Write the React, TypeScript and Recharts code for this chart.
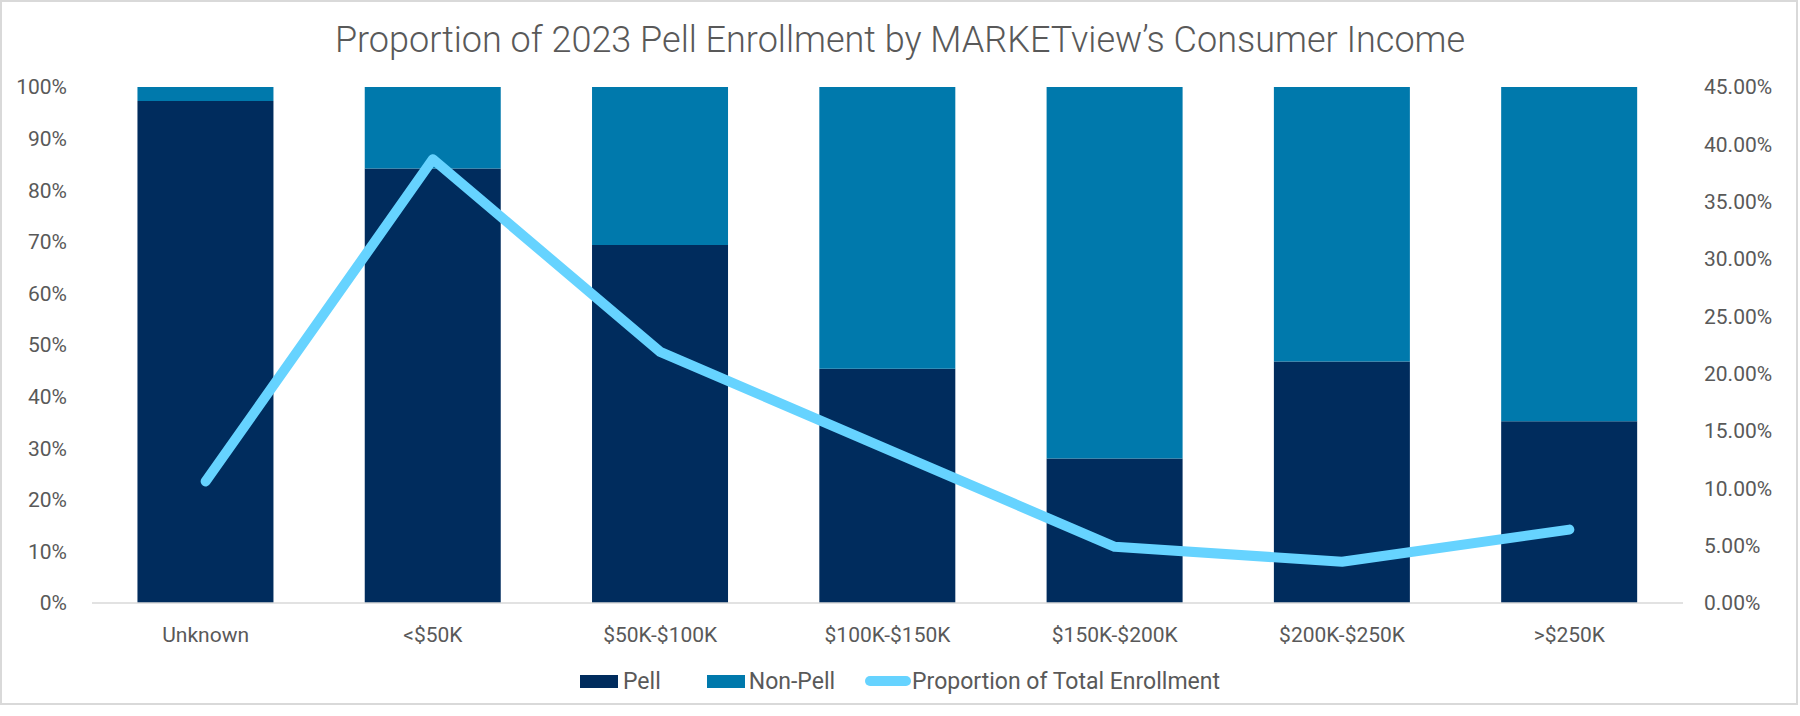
import React from "react";
import {
  Bar,
  ComposedChart,
  Legend,
  Line,
  XAxis,
  YAxis,
} from "recharts";

const CATEGORIES = ["Unknown", "<$50K", "$50K-$100K", "$100K-$150K", "$150K-$200K", "$200K-$250K", ">$250K"];
const PELL = [97.3, 84.2, 69.4, 45.4, 28.0, 46.8, 35.2];
const NON_PELL = [2.7, 15.8, 30.6, 54.6, 72.0, 53.2, 64.8];
const TOTAL_SHARE = [10.6, 38.7, 21.9, 13.4, 4.9, 3.6, 6.4];

const LEFT_TICKS = [0, 10, 20, 30, 40, 50, 60, 70, 80, 90, 100];
const RIGHT_TICKS = [0, 5, 10, 15, 20, 25, 30, 35, 40, 45];

const FONT = "Roboto, 'Noto Sans', sans-serif";
const TEXT = "#595959";
const PELL_COLOR = "#002C5D";
const NON_PELL_COLOR = "#0079AC";
const LINE_COLOR = "#66D3FF";
const AXIS_TICK = { fill: TEXT, fontSize: 21, fontFamily: FONT };

const data = CATEGORIES.map((name, i) => ({
  name,
  pell: PELL[i],
  nonPell: NON_PELL[i],
  share: TOTAL_SHARE[i],
}));

function LegendContent() {
  const label = { fontSize: 23, color: TEXT, fontFamily: FONT };
  return (
    <div style={{ display: "flex", justifyContent: "center", alignItems: "center", height: 36 }}>
      <span style={{ width: 38, height: 13, background: PELL_COLOR, marginRight: 5 }} />
      <span style={{ ...label, marginRight: 46 }}>Pell</span>
      <span style={{ width: 38, height: 13, background: NON_PELL_COLOR, marginRight: 4 }} />
      <span style={{ ...label, marginRight: 30 }}>Non-Pell</span>
      <span style={{ width: 46, height: 10, borderRadius: 5, background: LINE_COLOR, marginRight: 1 }} />
      <span style={label}>Proportion of Total Enrollment</span>
    </div>
  );
}

export default function App() {
  return (
    <div style={{ position: "absolute", left: 0, top: 0, width: 1800, height: 716, background: "#fff" }}>
      <div
        style={{
          position: "absolute",
          left: 0,
          top: 0,
          width: 1798,
          height: 705,
          border: "2px solid #D9D9D9",
          boxSizing: "border-box",
        }}
      />
      <div
        style={{
          position: "absolute",
          left: 0,
          top: 17,
          width: 1800,
          textAlign: "center",
          fontFamily: FONT,
          fontSize: 36,
          fontWeight: 300,
          color: TEXT,
          lineHeight: "46px",
        }}
      >
        Proportion of 2023 Pell Enrollment by MARKETview’s Consumer Income
      </div>
      <ComposedChart
        width={1800}
        height={716}
        data={data}
        barCategoryGap="20%"
        margin={{ top: 87, right: 0, bottom: 27, left: 0 }}
      >
        <XAxis
          dataKey="name"
          tick={AXIS_TICK}
          tickLine={false}
          axisLine={{ stroke: "#D9D9D9", strokeWidth: 1.5 }}
          height={50}
          tickMargin={18}
          interval={0}
        />
        <YAxis
          yAxisId="left"
          domain={[0, 100]}
          ticks={LEFT_TICKS}
          tickFormatter={(v) => `${v}%`}
          tick={AXIS_TICK}
          tickLine={false}
          axisLine={false}
          width={92}
          tickMargin={19}
        />
        <YAxis
          yAxisId="right"
          orientation="right"
          domain={[0, 45]}
          ticks={RIGHT_TICKS}
          tickFormatter={(v) => `${v.toFixed(2)}%`}
          tick={{ ...AXIS_TICK, textAnchor: "start" }}
          tickLine={false}
          axisLine={false}
          width={117}
          tickMargin={15}
        />
        <Legend verticalAlign="bottom" height={36} wrapperStyle={{ bottom: 17 }} content={<LegendContent />} />
        <Bar yAxisId="left" dataKey="pell" name="Pell" stackId="a" fill={PELL_COLOR} isAnimationActive={false} />
        <Bar yAxisId="left" dataKey="nonPell" name="Non-Pell" stackId="a" fill={NON_PELL_COLOR} isAnimationActive={false} />
        <Line
          yAxisId="right"
          dataKey="share"
          name="Proportion of Total Enrollment"
          type="linear"
          stroke={LINE_COLOR}
          strokeWidth={10}
          strokeLinecap="round"
          strokeLinejoin="round"
          dot={false}
          activeDot={false}
          isAnimationActive={false}
        />
      </ComposedChart>
    </div>
  );
}
